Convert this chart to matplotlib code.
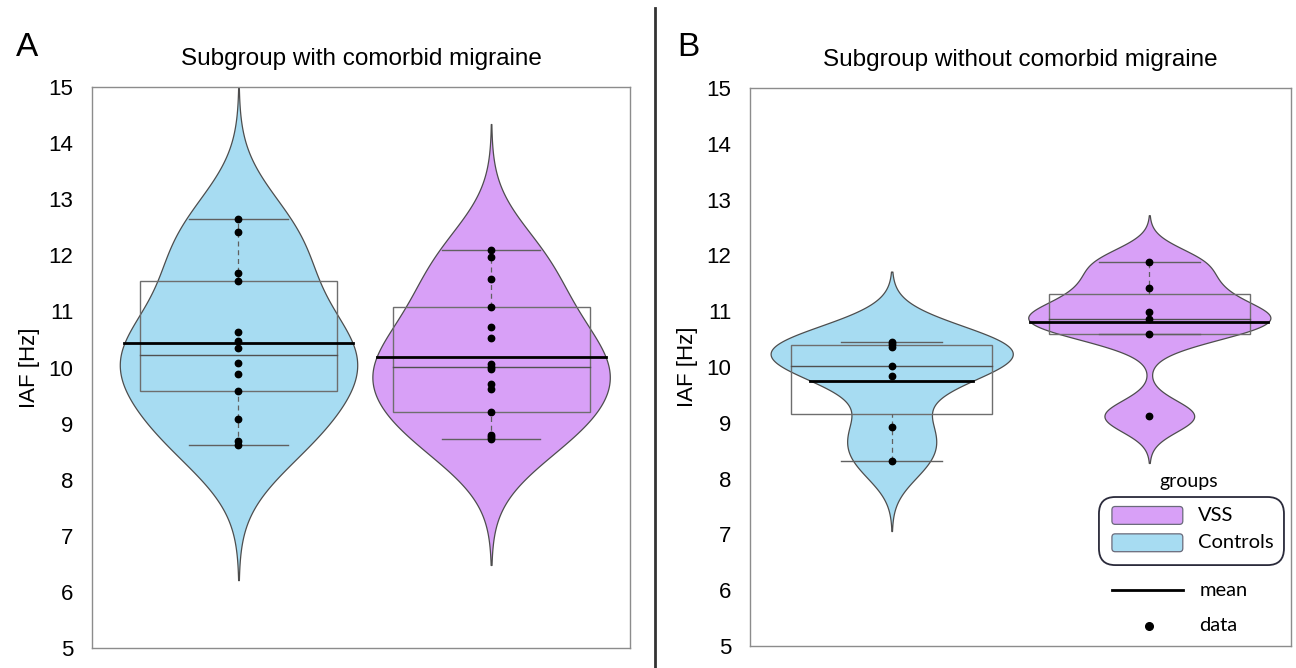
import numpy as np
import matplotlib
matplotlib.use("Agg")
import matplotlib.pyplot as plt
from matplotlib.patches import FancyBboxPatch, Rectangle
from matplotlib.lines import Line2D

plt.rcParams['font.family'] = ['Liberation Sans', 'DejaVu Sans']

# IAF values [Hz]
ctrl_mig = [12.65, 12.42, 11.69, 11.55, 10.63, 10.47, 10.34, 10.08, 9.89, 9.58, 9.09, 8.69, 8.61]
vss_mig = [12.09, 11.97, 11.57, 11.08, 10.73, 10.52, 10.06, 10.01, 9.98, 9.71, 9.62, 9.21,
           8.80, 8.77, 8.73]
ctrl_nomig = [10.45, 10.41, 10.35, 10.01, 9.84, 8.92, 8.32]
vss_nomig = [11.88, 11.41, 10.99, 10.86, 10.60, 9.12]

# box stats per violin: q1, median, q3, lower whisker, upper whisker
box_mig = [[9.58, 10.22, 11.55, 8.61, 12.65], [9.21, 10.01, 11.08, 8.73, 12.09]]
box_nomig = [[9.15, 10.01, 10.39, 8.32, 10.45], [10.60, 10.86, 11.31, 10.60, 11.88]]

# kernel bandwidths (estimated from violin shapes)
bw_mig = [0.80, 0.75]
bw_nomig = [0.42, 0.28]

titles = ['Subgroup with comorbid migraine', 'Subgroup without comorbid migraine']
panel_labels = ['A', 'B']
yticks = list(range(5, 16))

CTRL_COL = '#a7dcf2'
VSS_COL = '#d8a0f7'


def kde(vals, bw, grid):
    vals = np.asarray(vals)
    z = (grid[:, None] - vals[None, :]) / bw
    return np.exp(-0.5 * z ** 2).sum(axis=1)


def draw_violin(ax, pos, vals, bw, stats, color):
    vals = np.asarray(vals)
    grid = np.linspace(max(vals.min() - 3 * bw, 5), min(vals.max() + 3 * bw, 15), 400)
    dens = kde(vals, bw, grid)
    half = dens / dens.max() * 0.47
    ax.fill_betweenx(grid, pos - half, pos + half, facecolor=color,
                     edgecolor='#4d4d4d', linewidth=0.9, zorder=1)

    q1, med, q3, wlo, whi = stats
    ax.add_patch(Rectangle((pos - 0.39, q1), 0.78, q3 - q1, fill=False,
                           edgecolor='#6e6e6e', linewidth=1.0, zorder=2))
    ax.plot([pos - 0.39, pos + 0.39], [med, med], color='#505050', lw=1.0, zorder=2)
    for w in (wlo, whi):
        ax.plot([pos - 0.195, pos + 0.195], [w, w], color='#606060', lw=1.0, zorder=2)
    ax.plot([pos, pos], [q3, whi], color='#606060', lw=0.9, ls=(0, (4, 3)), zorder=2)
    ax.plot([pos, pos], [wlo, q1], color='#606060', lw=0.9, ls=(0, (4, 3)), zorder=2)

    mean = vals.mean()
    hw = np.interp(mean, grid, half)
    ax.plot([pos - hw, pos + hw], [mean, mean], color='black', lw=2.0, zorder=3)
    ax.plot(np.full(len(vals), pos), vals, 'o', color='black', ms=4.6, zorder=4)


fig = plt.figure(figsize=(12.96, 6.68), dpi=100)
ax_a = fig.add_axes([92 / 1296, 1 - 648 / 668, 538 / 1296, 561 / 668])
ax_b = fig.add_axes([750 / 1296, 1 - 646 / 668, 541 / 1296, 558 / 668])

panels = [(ax_a, ctrl_mig, vss_mig, box_mig, bw_mig, (0.42, 2.55)),
          (ax_b, ctrl_nomig, vss_nomig, box_nomig, bw_nomig, (0.45, 2.55))]

for i, (ax, ctrl, vss, boxes, bws, xl) in enumerate(panels):
    draw_violin(ax, 1, ctrl, bws[0], boxes[0], CTRL_COL)
    draw_violin(ax, 2, vss, bws[1], boxes[1], VSS_COL)
    ax.set_xlim(*xl)
    ax.set_ylim(5, 15)
    ax.set_xticks([])
    ax.set_yticks(yticks)
    ax.tick_params(axis='y', length=0, pad=13.5, labelsize=16)
    ax.set_ylabel('IAF [Hz]', fontsize=16, labelpad=6)
    ax.set_title(titles[i], fontsize=17.5, pad=16)
    for sp in ax.spines.values():
        sp.set_color('#8c8c8c')
        sp.set_linewidth(1.0)

fig.text(27 / 1296, 1 - 48 / 668, panel_labels[0], fontsize=24, ha='center', va='center')
fig.text(688 / 1296, 1 - 48 / 668, panel_labels[1], fontsize=24, ha='center', va='center')
fig.add_artist(Line2D([655 / 1296, 655 / 1296], [0, 1 - 8 / 668], color='#333333', lw=2.0))

# legend drawn in panel B
lf = ['Lato', 'DejaVu Sans']
ax = ax_b
ax.text(0.81, 0.294, 'groups', transform=ax.transAxes, ha='center', va='center',
        fontsize=14, family=lf)
ax.add_patch(FancyBboxPatch((0.645, 0.145), 0.342, 0.122, transform=ax.transAxes,
                            boxstyle='round,pad=0,rounding_size=0.03', facecolor='white',
                            edgecolor='#2a2a3a', linewidth=1.3, zorder=5))
for yc, col, lab in [(0.234, VSS_COL, 'VSS'), (0.185, CTRL_COL, 'Controls')]:
    ax.add_patch(FancyBboxPatch((0.669, yc - 0.016), 0.131, 0.032, transform=ax.transAxes,
                                boxstyle='round,pad=0,rounding_size=0.006', facecolor=col,
                                edgecolor='#6a6a7a', linewidth=0.9, zorder=6))
    ax.text(0.828, yc, lab, transform=ax.transAxes, va='center', fontsize=14.5,
            family=lf, zorder=6)
ax.plot([0.669, 0.800], [0.100, 0.100], transform=ax.transAxes, color='black', lw=2.0)
ax.text(0.831, 0.100, 'mean', transform=ax.transAxes, va='center', fontsize=14.5, family=lf)
ax.plot([0.7375], [0.036], 'o', transform=ax.transAxes, color='black', ms=5.5)
ax.text(0.831, 0.036, 'data', transform=ax.transAxes, va='center', fontsize=14.5, family=lf)

fig.savefig('out.png', dpi=100)
